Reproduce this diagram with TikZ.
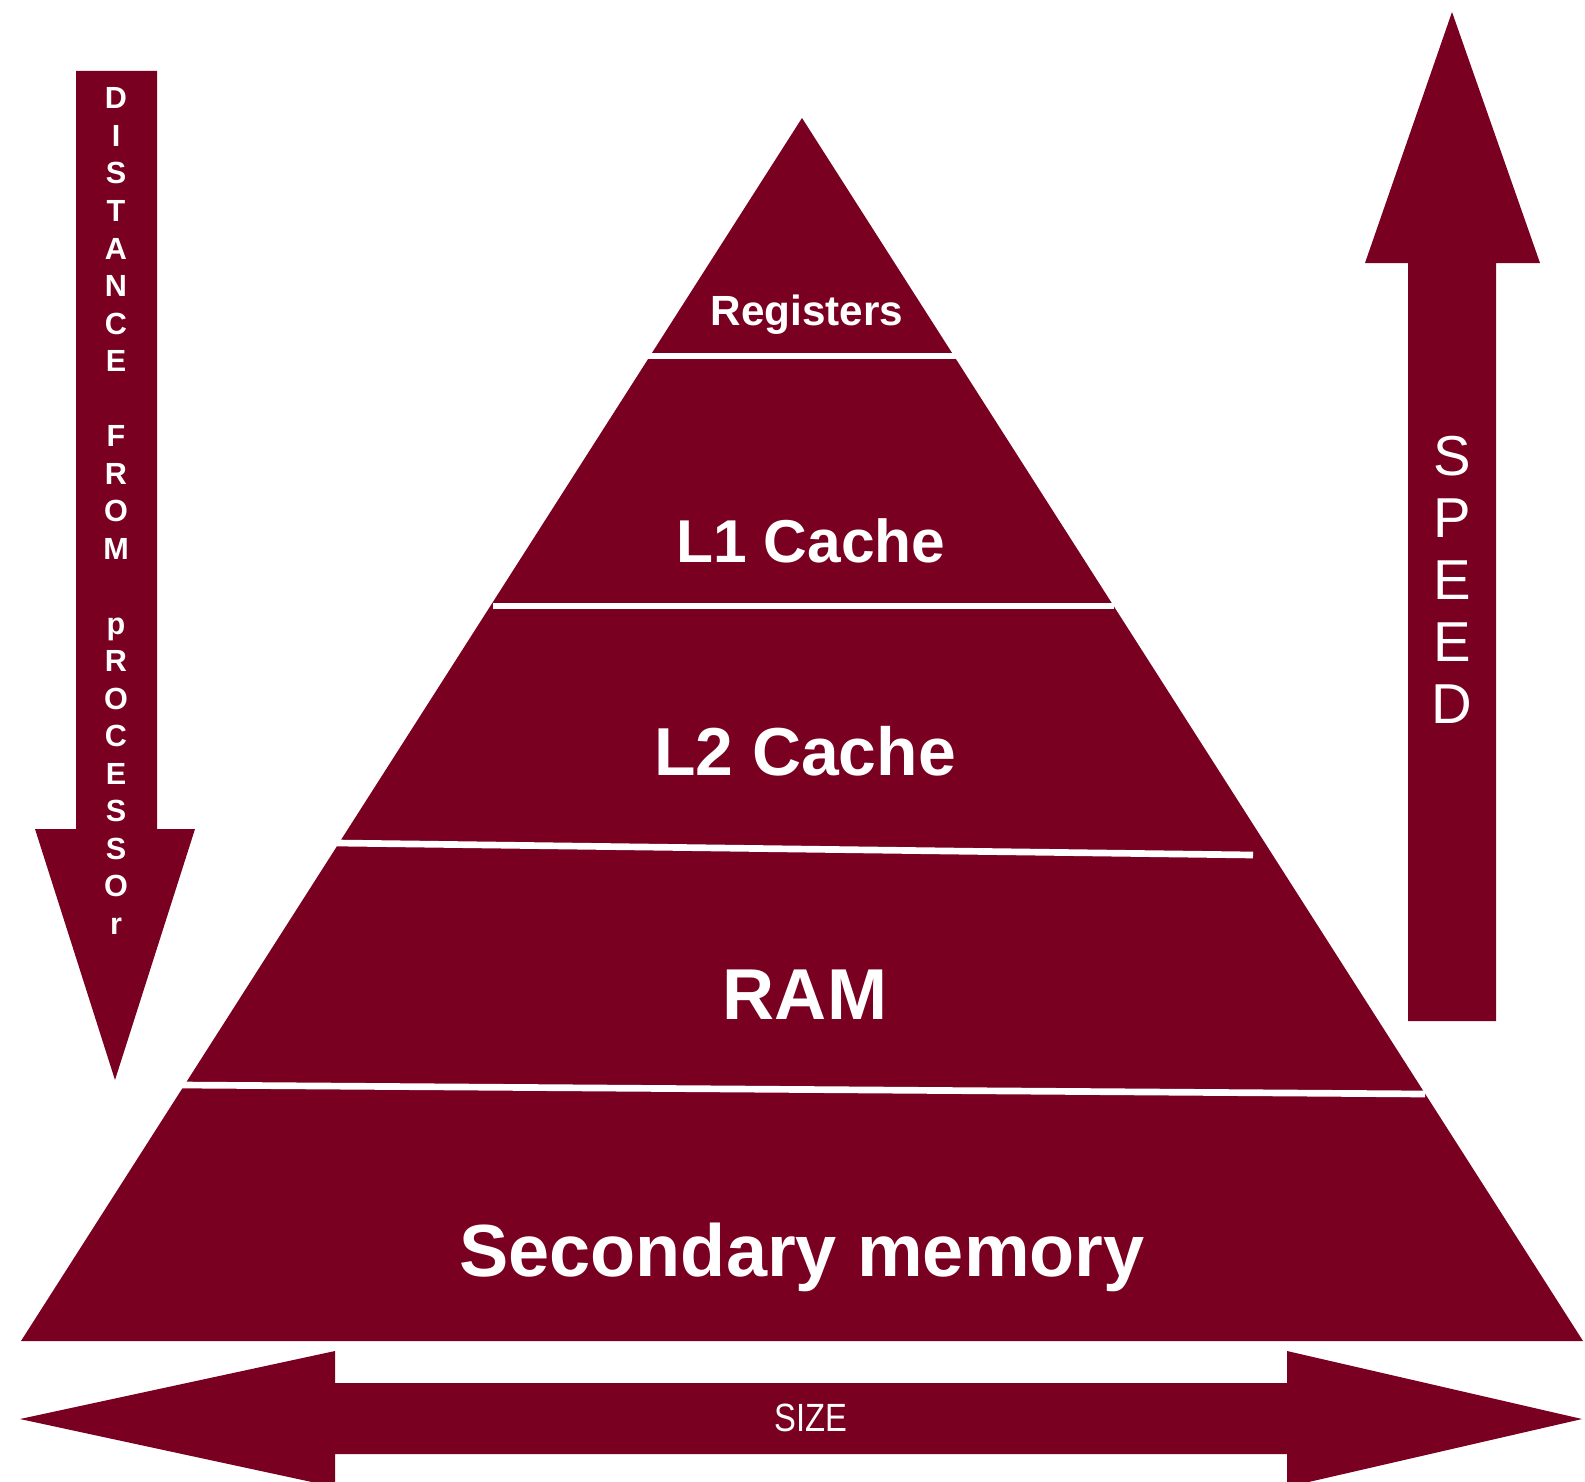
\documentclass[tikz,border=0pt]{standalone}
\usepackage{fontspec}
\setmainfont{Liberation Sans}
\usepackage{graphicx}
\usepackage{tikz}
\usetikzlibrary{calc}
\definecolor{maroondark}{HTML}{7A0021}

\begin{document}
\begin{tikzpicture}[x=0.01cm, y=-0.01cm,
        layerlabel/.style={text=white, inner sep=0mm, anchor=base, font=\bfseries},
        distletter/.style={text=white, inner sep=0mm, anchor=base, font=\bfseries\fontsize{8.7}{10}\selectfont},
        speedletter/.style={text=white, inner sep=0mm, anchor=base, font=\fontsize{16}{18}\selectfont},
        gapline/.style={white, line width=1.9pt}]
    \useasboundingbox (0,0) rectangle (1585,1482);
    \clip (0,0) rectangle (1585,1482);
    % pyramid
    \coordinate (apex) at (802,118);
    \coordinate (baseleft) at (21,1341);
    \coordinate (baseright) at (1583,1341);
    \fill[maroondark] (apex) -- (baseright) -- (baseleft) -- cycle;
    \draw[gapline] (645,356) -- (959,356);
    \draw[gapline] (493,606) -- (1114,606);
    \draw[gapline] (337,843) -- (1253,855);
    \draw[gapline] (182,1085) -- (1425,1094);
    % layer labels
    \node[layerlabel, font=\bfseries\fontsize{12}{14}\selectfont] (registers) at (807,325) {Registers};
    \node[layerlabel, font=\bfseries\fontsize{17.2}{20}\selectfont] (lonecache) at (811,562) {L1 Cache};
    \node[layerlabel, font=\bfseries\fontsize{19.3}{22}\selectfont] (ltwocache) at (805,775) {L2 Cache};
    \node[layerlabel, font=\bfseries\fontsize{20.5}{24}\selectfont] (ram) at (805,1019) {RAM};
    \node[layerlabel, font=\bfseries\fontsize{21}{24}\selectfont] (secondary) at (802,1276) {Secondary memory};
    % distance arrow
    \fill[maroondark] (76,71) -- (157,71) -- (157,829) -- (195,829) -- (115,1080)
        -- (35,829) -- (76,829) -- cycle;
    \foreach \ch [count=\i from 0] in {D,I,S,T,A,N,C,E,{},F,R,O,M,{},p,R,O,C,E,S,S,O,r}
        \node[distletter] (dist\i) at (116,{109+37.5*\i}) {\ch};
    % speed arrow
    \fill[maroondark] (1452,12) -- (1540,263) -- (1496,263) -- (1496,1021)
        -- (1408,1021) -- (1408,263) -- (1365,263) -- cycle;
    \foreach \ch [count=\i from 0] in {S,P,E,E,D}
        \node[speedletter] (speed\i) at (1452,{475+62*\i}) {\ch};
    % size arrow
    \fill[maroondark] (20,1419) -- (335,1351) -- (335,1383) -- (1287,1383) -- (1287,1351)
        -- (1582,1419) -- (1287,1487) -- (1287,1454) -- (335,1454) -- (335,1487) -- cycle;
    \node[text=white, inner sep=0mm, anchor=base, font=\fontsize{11.2}{13}\selectfont] (size) at (811,1431) {\scalebox{0.83}[1]{SIZE}};
\end{tikzpicture}
\end{document}
